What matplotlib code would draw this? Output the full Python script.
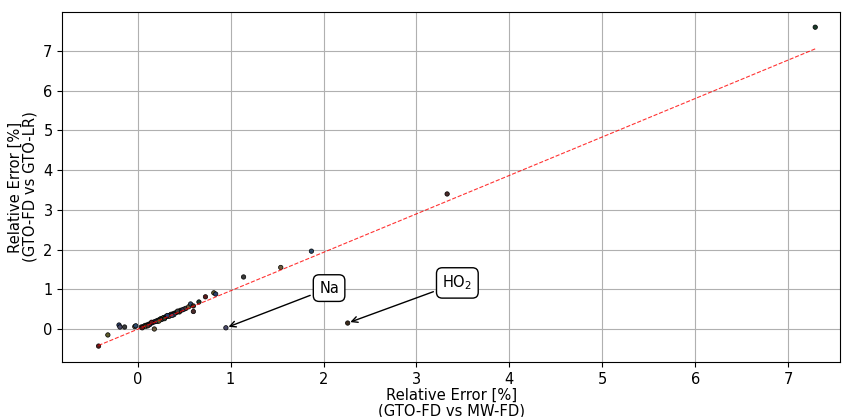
import numpy as np
import matplotlib.pyplot as plt

# relative errors, GTO-FD vs MW-FD (x) and GTO-FD vs GTO-LR (y)
err_mw = [-0.42, -0.32, -0.20, -0.19, -0.14, -0.03, -0.02, 0.04, 0.06, 0.08,
          0.10, 0.12, 0.14, 0.16, 0.18, 0.18, 0.20, 0.22, 0.24, 0.25,
          0.27, 0.28, 0.30, 0.31, 0.33, 0.35, 0.36, 0.38, 0.40, 0.42,
          0.44, 0.46, 0.48, 0.50, 0.52, 0.55, 0.57, 0.60, 0.60, 0.66,
          0.73, 0.82, 0.84, 0.95, 1.14, 1.54, 1.87, 2.26, 3.33, 7.29,
          0.05, 0.09, 0.13, 0.21, 0.26, 0.34, 0.39, 0.45, 0.11, 0.29,
          0.15, 0.23, 0.32, 0.37, 0.43]
err_lr = [-0.43, -0.15, 0.10, 0.05, 0.05, 0.06, 0.08, 0.05, 0.06, 0.09,
          0.10, 0.12, 0.14, 0.16, 0.18, 0.00, 0.20, 0.22, 0.24, 0.26,
          0.27, 0.29, 0.30, 0.32, 0.33, 0.35, 0.37, 0.38, 0.40, 0.42,
          0.44, 0.47, 0.48, 0.50, 0.52, 0.56, 0.63, 0.58, 0.44, 0.68,
          0.81, 0.91, 0.88, 0.03, 1.31, 1.55, 1.96, 0.15, 3.40, 7.60,
          0.03, 0.07, 0.11, 0.19, 0.24, 0.32, 0.36, 0.43, 0.08, 0.26,
          0.17, 0.20, 0.34, 0.34, 0.45]
point_colors = ['#5a1a1a', '#5c5a2a', '#2a3f6a', '#4a4a6a', '#3a3a3a', '#6a5a3a',
                '#2a4a6a', '#3a2a1a', '#4a2a2a', '#1a3a2a']

na = (0.95, 0.03)
ho2 = (2.26, 0.15)

x = np.array(err_mw)
y = np.array(err_lr)
slope, intercept = np.polyfit(x, y, 1)

fig, ax = plt.subplots(figsize=(8.42, 4.17), dpi=100)
fig.subplots_adjust(left=0.074, right=0.998, bottom=0.132, top=0.971)

cols = [point_colors[i % len(point_colors)] for i in range(len(x))]
ax.scatter(x, y, s=10, c=cols, edgecolors='k', linewidths=0.5, zorder=3)

xs = np.array([x.min(), x.max()])
ax.plot(xs, slope * xs + intercept, 'r--', lw=0.8, alpha=0.8, zorder=4)

box = dict(boxstyle='round,pad=0.4', fc='white', ec='k')
ax.annotate('Na', xy=na, xytext=(2.06, 1.03), ha='center', va='center',
            fontsize=10.5, bbox=box, arrowprops=dict(arrowstyle='->', color='k'))
ax.annotate('HO$_2$', xy=ho2, xytext=(3.44, 1.16), ha='center', va='center',
            fontsize=10.5, bbox=box, arrowprops=dict(arrowstyle='->', color='k'))

ax.set_xlim(-0.81, 7.56)
ax.set_ylim(-0.83, 7.98)
ax.set_xticks(range(8))
ax.set_yticks(range(8))
ax.grid(True, color='#b0b0b0', lw=0.8)
ax.set_axisbelow(True)
ax.set_xlabel('Relative Error [%]\n(GTO-FD vs MW-FD)', fontsize=10.6, labelpad=1,
              linespacing=1.0)
ax.set_ylabel('Relative Error [%]\n(GTO-FD vs GTO-LR)', fontsize=10.6, linespacing=1.0)
ax.tick_params(labelsize=10.5)

plt.savefig('out.png')
